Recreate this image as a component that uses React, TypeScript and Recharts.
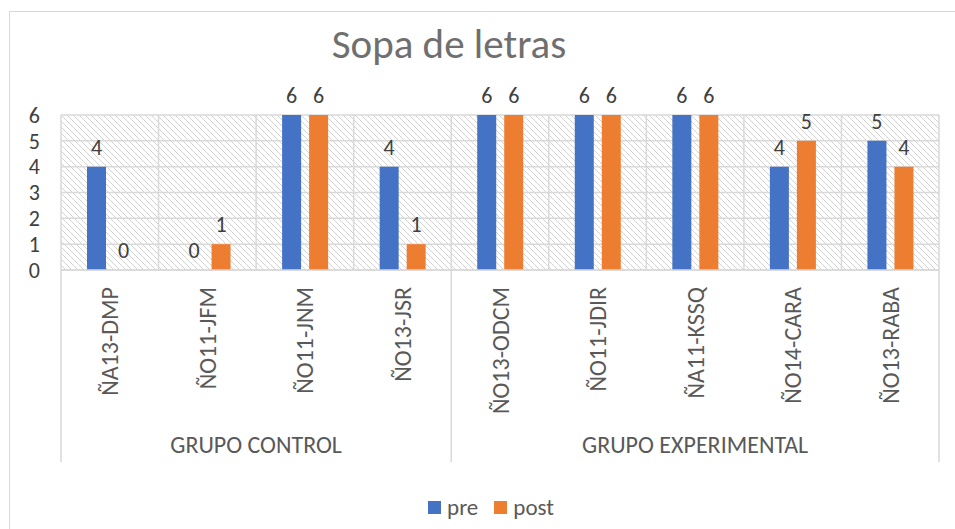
import { BarChart, Bar, XAxis, YAxis, CartesianGrid, LabelList } from "recharts";

const categories = [
  "ÑA13-DMP",
  "ÑO11-JFM",
  "ÑO11-JNM",
  "ÑO13-JSR",
  "ÑO13-ODCM",
  "ÑO11-JDIR",
  "ÑA11-KSSQ",
  "ÑO14-CARA",
  "ÑO13-RABA",
];
const preValues = [4, 0, 6, 4, 6, 6, 6, 4, 5];
const postValues = [0, 1, 6, 1, 6, 6, 6, 5, 4];
const groupNames = ["GRUPO CONTROL", "GRUPO EXPERIMENTAL"];
const groupSizes = [4, 5];
const yTicks = [0, 1, 2, 3, 4, 5, 6];

const data = categories.map((name, i) => ({ name, pre: preValues[i], post: postValues[i] }));

const W = 955;
const H = 529;
const margin = { top: 115, right: 16, bottom: 69, left: 0 };
const plotW = W - 61 - margin.right;
const band = plotW / categories.length;
const FONT = "Carlito, Lato, 'Liberation Sans', sans-serif";
const BLUE = "#4472C4";
const ORANGE = "#ED7D31";
const GRID = "#d9d9d9";
const TEXT = "#595959";

// first index of each group
const groupStarts = groupSizes.map((_, g) => groupSizes.slice(0, g).reduce((a, b) => a + b, 0));

function CategoryTick(props: any) {
  const { x, y, payload, index } = props;
  let g = 0;
  groupStarts.forEach((s, i) => {
    if (s <= index) g = i;
  });
  const isStart = groupStarts.includes(index);
  const isLast = index === categories.length - 1;
  const groupCenter = x - band / 2 + (groupSizes[g] * band) / 2;
  return (
    <g>
      <text
        x={x}
        y={y + 17}
        transform={`rotate(-90, ${x}, ${y + 17})`}
        textAnchor="end"
        dominantBaseline="central"
        fill={TEXT}
        fontSize={24}
        fontFamily={FONT}
      >
        {payload.value}
      </text>
      {isStart && (
        <>
          <line x1={x - band / 2} y1={y} x2={x - band / 2} y2={y + 192} stroke={GRID} strokeWidth={1.5} />
          <text x={groupCenter} y={y + 183} textAnchor="middle" fill={TEXT} fontSize={24} fontFamily={FONT}>
            {groupNames[g]}
          </text>
        </>
      )}
      {isLast && (
        <line x1={x + band / 2} y1={y} x2={x + band / 2} y2={y + 192} stroke={GRID} strokeWidth={1.5} />
      )}
    </g>
  );
}

function LegendBox() {
  const items = [
    { label: "pre", color: BLUE },
    { label: "post", color: ORANGE },
  ];
  return (
    <div
      style={{
        position: "absolute",
        left: 0,
        top: 493,
        width: 982,
        display: "flex",
        justifyContent: "center",
        gap: 16,
        fontFamily: FONT,
        fontSize: 23,
        color: TEXT,
      }}
    >
      {items.map((it) => (
        <div key={it.label} style={{ display: "flex", alignItems: "center", gap: 6 }}>
          <span style={{ display: "inline-block", width: 13, height: 13, background: it.color }} />
          <span>{it.label}</span>
        </div>
      ))}
    </div>
  );
}

export default function App() {
  return (
    <div style={{ position: "absolute", left: 0, top: 0, width: W, height: H, background: "#fff", overflow: "hidden" }}>
      <svg width={W} height={H} style={{ position: "absolute", left: 0, top: 0 }}>
        <rect x={9.5} y={11.5} width={W} height={H} fill="none" stroke={GRID} />
        <text x={449} y={58} textAnchor="middle" fill="#6f6f6f" fontSize={41} fontFamily={FONT}>
          Sopa de letras
        </text>
      </svg>
      <div style={{ position: "absolute", left: 0, top: 0 }}>
        <BarChart width={W} height={H} data={data} margin={margin} barSize={19} barGap={8}>
          <defs>
            <pattern id="hatch" width="6" height="6" patternUnits="userSpaceOnUse">
              <rect width="6" height="6" fill="#ffffff" />
              <path d="M0,0 L6,6 M-1,5 L1,7 M5,-1 L7,1" stroke="#d2d2d2" strokeWidth={1} />
            </pattern>
          </defs>
          <CartesianGrid
            stroke={GRID}
            strokeWidth={1.5}
            fill="url(#hatch)"
            fillOpacity={1}
            verticalCoordinatesGenerator={({ offset }: any) =>
              categories.map((_, i) => offset.left + i * (offset.width / categories.length)).concat(offset.left + offset.width)
            }
          />
          <XAxis
            dataKey="name"
            interval={0}
            height={190}
            tickLine={false}
            tickSize={0}
            tickMargin={0}
            axisLine={{ stroke: GRID, strokeWidth: 1.5 }}
            tick={<CategoryTick />}
          />
          <YAxis
            domain={[0, 6]}
            ticks={yTicks}
            interval={0}
            axisLine={false}
            tickLine={false}
            tickSize={0}
            tickMargin={21}
            width={61}
            tick={{ fill: "#404040", fontSize: 22, fontFamily: FONT }}
          />
          <Bar dataKey="pre" fill={BLUE} isAnimationActive={false} minPointSize={0.01}>
            <LabelList
              dataKey="pre"
              position="top"
              offset={12}
              fill="#404040"
              fontSize={22}
              fontFamily={FONT}
              formatter={(v: any) => String(v)}
            />
          </Bar>
          <Bar dataKey="post" fill={ORANGE} isAnimationActive={false} minPointSize={0.01}>
            <LabelList
              dataKey="post"
              position="top"
              offset={12}
              fill="#404040"
              fontSize={22}
              fontFamily={FONT}
              formatter={(v: any) => String(v)}
            />
          </Bar>
        </BarChart>
      </div>
      <LegendBox />
    </div>
  );
}
